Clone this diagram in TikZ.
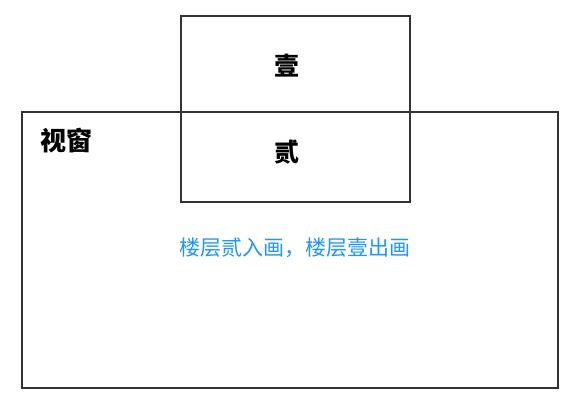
\documentclass[tikz,border=0pt]{standalone}
\usepackage{fontspec}
\newfontfamily\cjk{Noto Sans CJK SC}
\definecolor{linegray}{HTML}{333333}
\definecolor{noteblue}{HTML}{1E96FF}
\begin{document}
\begin{tikzpicture}[x=1pt,y=-1pt,
  box/.style={draw=linegray,line width=2pt},
  lab/.style={font=\cjk\fontsize{25}{27}\selectfont\bfseries,text=black,inner sep=0pt},
  note/.style={font=\cjk\fontsize{21}{23}\selectfont,text=noteblue,inner sep=0pt}]
\useasboundingbox (0,0) rectangle (575,400);
\fill[white] (0,0) rectangle (575,400);
\draw[box] (22,112) rectangle (558,388);
\draw[box] (181,16) rectangle (410,202);
\node[lab] (one) at (287,66) {壹};
\node[lab] (two) at (287,152) {贰};
\node[font=\cjk\fontsize{26}{28}\selectfont\bfseries,inner sep=0pt] (win) at (66,141) {视窗};
\node[note] (msg) at (295,248) {楼层贰入画，楼层壹出画};
\end{tikzpicture}
\end{document}
